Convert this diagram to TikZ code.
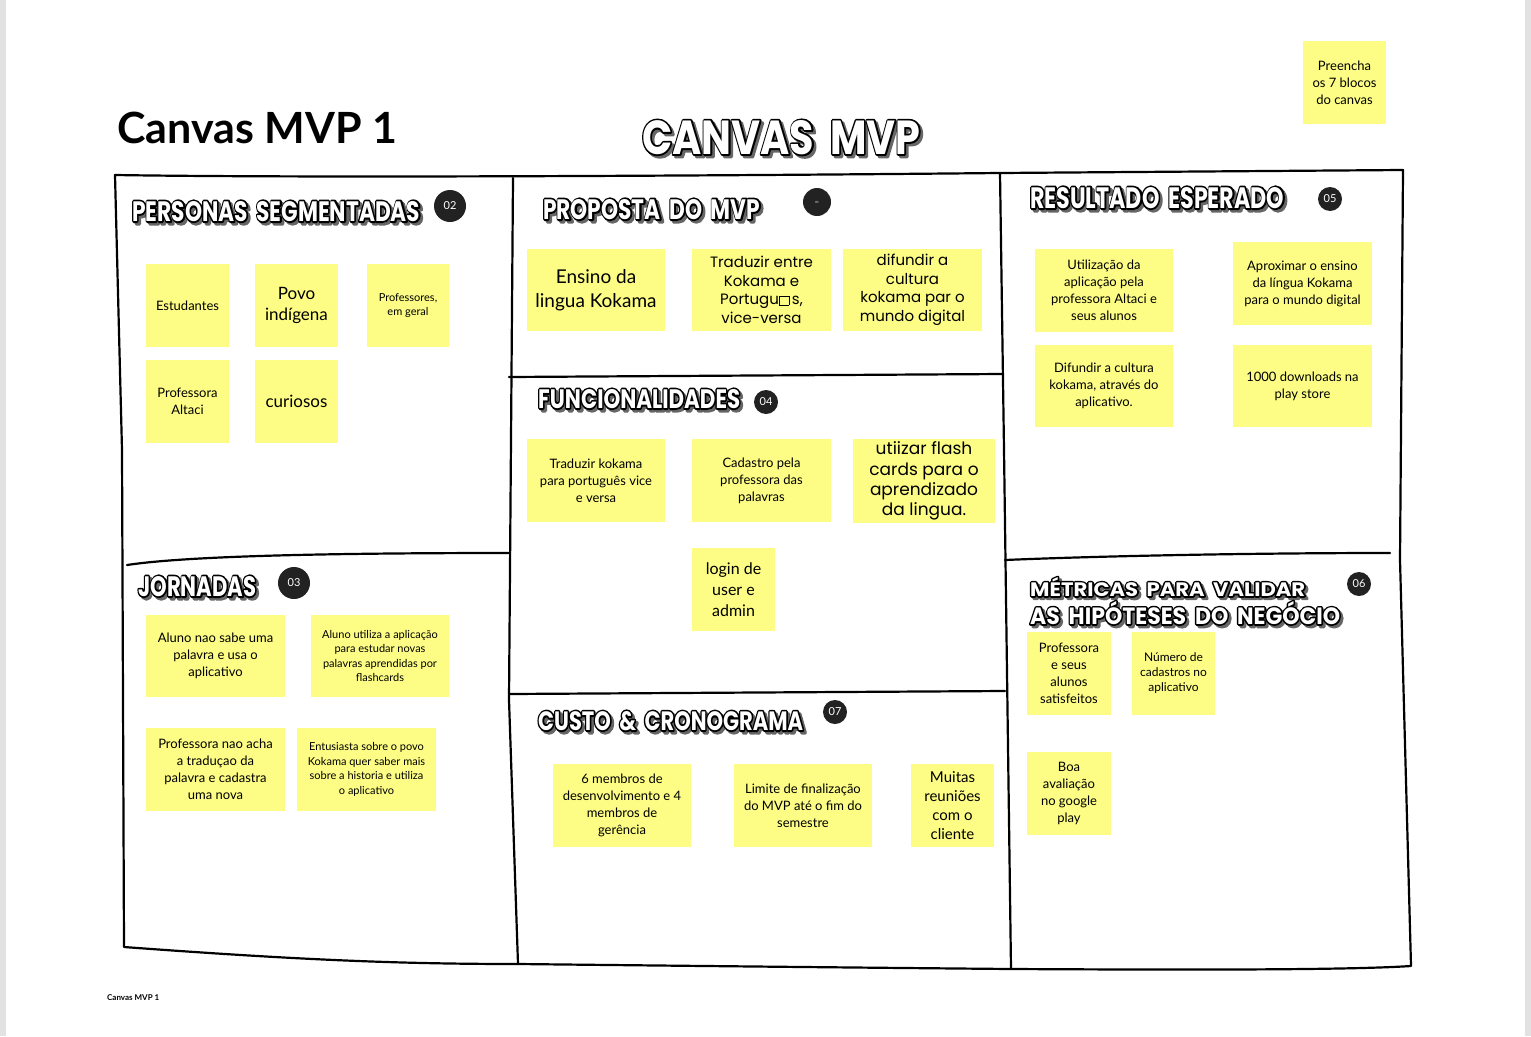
\documentclass[tikz,border=0pt]{standalone}
\usepackage{fontspec}
\usepackage{graphicx}
\setmainfont{Lato}
\newfontfamily\maofont{Poppins}
\newfontfamily\titfont{Poppins}
\definecolor{amarelo}{RGB}{253,253,133}
\definecolor{selofundo}{RGB}{34,34,34}
\definecolor{bordacinza}{RGB}{226,226,226}
\newsavebox{\caixatit}
% texto com contorno: largura do traco, cor do traco, texto
\newcommand{\contorno}[3]{\special{pdf:literal direct #2 #1 w 1 j 2 Tr}\titfont\bfseries #3\special{pdf:literal direct 0 Tr}}
% titulo em letra de quadrinho: nome, x, y (topo), largura, altura, texto
\newcommand{\titulo}[6]{%
  \pgfinterruptpicture\global\setbox\caixatit=\hbox{\titfont\bfseries #6}\endpgfinterruptpicture
  \edef\wtit{\the\wd\caixatit}\edef\htit{\the\ht\caixatit}%
  \pgfmathsetmacro\escala{sqrt((#4/\wtit)*(#5/\htit))}%
  \pgfmathsetmacro\larg{3.2/\escala}%
  \node[inner sep=0pt,anchor=north west,text=black!60] at (#2+2.5,#3+2.5) {\resizebox{#4pt}{#5pt}{\contorno{\larg}{0.4 G}{#6}}};
  \node[inner sep=0pt,anchor=north west,text=black] at (#2,#3) {\resizebox{#4pt}{#5pt}{\contorno{\larg}{0 G}{#6}}};
  \node[inner sep=0pt,anchor=north west,text=white] (#1) at (#2,#3) {\resizebox{#4pt}{#5pt}{\titfont\bfseries #6}};
}
\newcommand{\esp}{\hspace{0.4em}}
\newcommand{\caixa}{{\setlength\fboxsep{0pt}\setlength\fboxrule{0.5pt}\fbox{\phantom{n}}}}
\begin{document}
\begin{tikzpicture}[x=1pt,y=-1pt,
    traco/.style={line width=2.2pt,line cap=round,line join=round},
    nota/.style 2 args={fill=amarelo,minimum width=#1,minimum height=#2,inner sep=0pt,align=center},
    selo/.style={circle,fill=selofundo,text=white,inner sep=0pt,font=\fontsize{11}{11}\selectfont},
    fA/.style={font=\fontsize{13}{17}\selectfont},
    fB/.style={font=\fontsize{11}{14.5}\selectfont},
    fC/.style={font=\fontsize{17}{21}\selectfont},
    fM/.style={font=\maofont\fontsize{15}{18.5}\selectfont}]
\useasboundingbox (0,0) rectangle (1531,1036);
\fill[bordacinza] (0,0) rectangle (6,1036);
\fill[bordacinza] (1525,0) rectangle (1531,1036);

% moldura
\draw[traco] (115,175) .. controls (300,178) and (700,176) .. (1000,173) -- (1403,170)
  -- (1400,560) -- (1411,966)
  .. controls (1350,970) and (1200,970) .. (1011,969)
  .. controls (900,968) and (700,966) .. (518,964)
  .. controls (400,964) and (300,960) .. (124,947) -- (122,450) -- cycle;
\draw[traco] (513,178) -- (509,700) -- (518,964);
\draw[traco] (1000,173) -- (1004,450) -- (1011,969);
\draw[traco] (127,565) .. controls (180,557) and (300,553) .. (510,553);
\draw[traco] (509,377) -- (1003,374);
\draw[traco] (510,694) -- (1005,691);
\draw[traco] (1005,560) .. controls (1100,556) and (1250,553) .. (1390,553);

% titulos
\node[anchor=base west,inner sep=0pt,font=\bfseries\fontsize{43}{43}\selectfont] (cabeca) at (117,143) {Canvas MVP 1};
\titulo{canvas}{642}{120}{278}{34}{CANVAS\esp MVP}
\node[nota={83}{83},fA] (preencha) at (1344.5,82.5) {Preencha\\os 7 blocos\\do canvas};

% 02 personas
\titulo{personas}{132}{201}{288}{20}{PERSONAS\esp SEGMENTADAS}
\node[selo,minimum size=32] (s02) at (450,206) {02};
\node[nota={83}{83},fA] (estud) at (187.5,305.5) {Estudantes};
\node[nota={83}{83},fC] (povo) at (296.5,305.5) {Povo\\indígena};
\node[nota={82}{83},fB] (profs) at (408,305.5) {Professores,\\em geral};
\node[nota={83}{83},fA] (altaci) at (187.5,401.5) {Professora\\Altaci};
\node[nota={83}{83},fC] (curiosos) at (296.5,401.5) {curiosos};

% 01 proposta
\titulo{proposta}{543}{199}{217}{20}{PROPOSTA\esp DO\esp MVP}
\node[selo,minimum size=28,font=\fontsize{3}{3}\selectfont] (s01) at (817,202) {01};
\node[nota={138}{82},font=\fontsize{19}{24}\selectfont] (ensino) at (596,290) {Ensino da\\lingua Kokama};
\node[nota={139}{82},fM] (traduzir) at (761.5,290) {Traduzir entre\\Kokama e\\Portugu\caixa\,s,\\vice-versa};
\node[nota={139}{82},fM] (difundir) at (912.5,290) {difundir a\\cultura\\kokama par o\\mundo digital};

% 04 funcionalidades
\titulo{funcionalidades}{538}{389}{202}{19}{FUNCIONALIDADES}
\node[selo,minimum size=24] (s04) at (766,402) {04};
\node[nota={138}{83},fA] (trad) at (596,480.5) {Traduzir kokama\\para português vice\\e versa};
\node[nota={139}{83},fA] (cadastro) at (761.5,480.5) {Cadastro pela\\professora das\\palavras};
\node[nota={142}{84},font=\maofont\fontsize{17}{20.3}\selectfont] (flash) at (924,481) {utiizar flash\\cards para o\\aprendizado\\da lingua.};
\node[nota={83}{83},font=\fontsize{16}{21}\selectfont] (login) at (733.5,589.5) {login de\\user e\\admin};

% 07 custo
\titulo{custo}{538}{711}{265}{19}{CUSTO\esp\&\esp CRONOGRAMA}
\node[selo,minimum size=24] (s07) at (835,712) {07};
\node[nota={138}{83},fA] (membros) at (622,805.5) {6 membros de\\desenvolvimento e 4\\membros de\\gerência};
\node[nota={138}{83},fA] (limite) at (803,805.5) {Limite de finalização\\do MVP até o fim do\\semestre};
\node[nota={83}{83},font=\fontsize{15}{19}\selectfont] (reunioes) at (952.5,805.5) {Muitas\\reuniões\\com o\\cliente};

% 05 resultado
\titulo{resultado}{1030}{187}{254}{21}{RESULTADO\esp ESPERADO}
\node[selo,minimum size=24] (s05) at (1330,199) {05};
\node[nota={138}{83},fA] (utiliz) at (1104,290.5) {Utilização da\\aplicação pela\\professora Altaci e\\seus alunos};
\node[nota={139}{83},fA] (aprox) at (1302.5,283.5) {Aproximar o ensino\\da língua Kokama\\para o mundo digital};
\node[nota={138}{82},fA] (difcult) at (1104,386) {Difundir a cultura\\kokama, através do\\aplicativo.};
\node[nota={139}{82},fA] (downloads) at (1302.5,386) {1000 downloads na\\play store};

% 06 metricas
\titulo{metricas}{1030}{577}{275}{19}{MÉTRICAS\esp PARA\esp VALIDAR}
\titulo{hipoteses}{1030}{601}{310}{23}{AS\esp HIPÓTESES\esp DO\esp NEGÓCIO}
\node[selo,minimum size=24] (s06) at (1359,584) {06};
\node[nota={84}{83},fA] (satisf) at (1069,673.5) {Professora\\e seus\\alunos\\satisfeitos};
\node[nota={83}{83},font=\fontsize{12}{15}\selectfont] (numero) at (1173.5,673.5) {Número de\\cadastros no\\aplicativo};
\node[nota={84}{83},fA] (avaliacao) at (1069,793.5) {Boa\\avaliação\\no google\\play};

% 03 jornadas
\titulo{jornadas}{138}{576}{118}{20}{JORNADAS}
\node[selo,minimum size=32] (s03) at (294,583) {03};
\node[nota={139}{82},fA] (aluno1) at (215.5,656) {Aluno nao sabe uma\\palavra e usa o\\aplicativo};
\node[nota={138}{82},fB] (aluno2) at (380,656) {Aluno utiliza a aplicação\\para estudar novas\\palavras aprendidas por\\flashcards};
\node[nota={139}{83},fA] (profacha) at (215.5,769.5) {Professora nao acha\\a traduçao da\\palavra e cadastra\\uma nova};
\node[nota={139}{83},fB] (entus) at (366.5,769.5) {Entusiasta sobre o povo\\Kokama quer saber mais\\sobre a historia e utiliza\\o aplicativo};

\node[anchor=base west,inner sep=0pt,font=\bfseries\fontsize{8}{8}\selectfont] (rodape) at (107,1000) {Canvas MVP 1};
\end{tikzpicture}
\end{document}
